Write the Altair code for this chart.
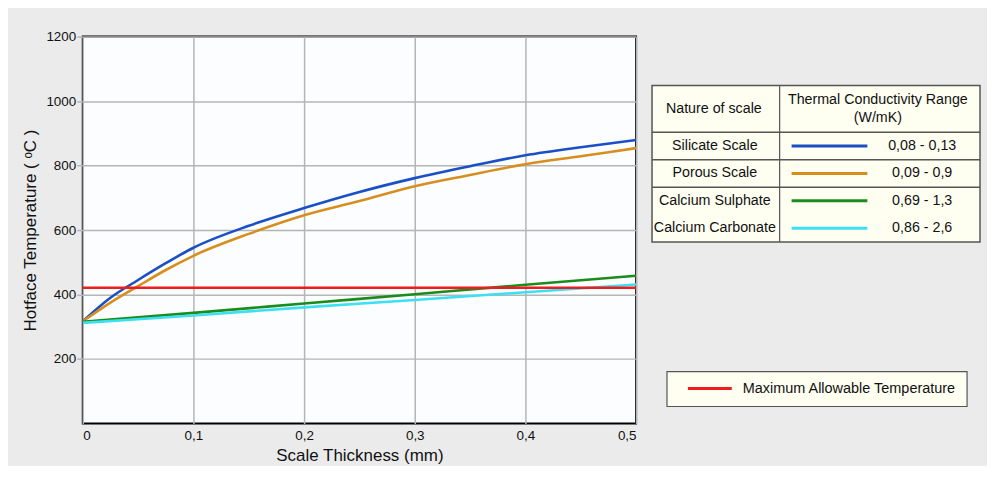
import altair as alt
import pandas as pd

# ---------------- data ----------------
thickness = [0, 0.025, 0.05, 0.075, 0.1, 0.15, 0.2, 0.25, 0.3, 0.35, 0.4, 0.45, 0.5]
silicate = [317, 390, 445, 497, 545, 613, 668, 718, 761, 798, 832, 857, 879]
porous = [317, 375, 426, 476, 520, 588, 646, 690, 736, 771, 804, 829, 854]
lin_thickness = [0, 0.1, 0.2, 0.3, 0.4, 0.5]
sulphate = [315, 343, 372, 401, 430, 458]
carbonate = [312, 335, 360, 383, 407, 431]
max_thickness = [0, 0.5]
max_temp = [421, 421]

series_names = ["Silicate Scale", "Porous Scale", "Calcium Sulphate", "Calcium Carbonate"]
conductivity = ["0,08 - 0,13", "0,09 - 0,9", "0,69 - 1,3", "0,86 - 2,6"]
series_colors = ["#1b4fc6", "#d68f1f", "#1b8c1b", "#3be0f2"]
max_label = "Maximum Allowable Temperature"
max_color = "#ee1c1c"

x_ticks = [0, 0.1, 0.2, 0.3, 0.4, 0.5]
y_ticks = [200, 400, 600, 800, 1000, 1200]

FONT = "Liberation Sans"
LEG_FS = 14.3

rows = []
for name, xs_, ys_ in [
    (series_names[0], thickness, silicate),
    (series_names[1], thickness, porous),
    (series_names[2], lin_thickness, sulphate),
    (series_names[3], lin_thickness, carbonate),
    (max_label, max_thickness, max_temp),
]:
    for i, (a, b) in enumerate(zip(xs_, ys_)):
        rows.append({"series": name, "t": a, "temp": b, "order": i})
df = pd.DataFrame(rows)

color_scale = alt.Scale(domain=[max_label] + series_names, range=[max_color] + series_colors)

W, H = 555, 388

main = (
    alt.Chart(df)
    .mark_line(strokeWidth=2.6, clip=True, interpolate="monotone")
    .encode(
        x=alt.X(
            "t:Q",
            scale=alt.Scale(domain=[0, 0.5], nice=False, zero=False),
            axis=alt.Axis(
                values=x_ticks,
                title="Scale Thickness (mm)",
                labelExpr="datum.value == 0 ? '0' : replace(format(datum.value, '.1f'), '.', ',')",
                ticks=False,
                labelPadding=5,
                titlePadding=6,
            ),
        ),
        y=alt.Y(
            "temp:Q",
            scale=alt.Scale(domain=[0, 1200], nice=False),
            axis=alt.Axis(
                values=y_ticks,
                format="d",
                title="Hotface Temperature ( ᵒC )",
                tickSize=6,
                labelPadding=1,
                titlePadding=6,
            ),
        ),
        color=alt.Color("series:N", scale=color_scale, legend=None),
        order="order:Q",
        detail="series:N",
    )
    .properties(width=W, height=H)
)

# ---------------- legend panel (table) ----------------
LW = 329
tbl_top, hdr_bot, row_h, col_sep = 49, 96, 27.5, 128
tbl_bot = hdr_bot + row_h * len(series_names)

leg_rows = pd.DataFrame({
    "series": series_names,
    "range": conductivity,
    "idx": list(range(len(series_names))),
})

xs = alt.Scale(domain=[0, LW], nice=False, zero=False)
ys = alt.Scale(domain=[0, H], nice=False, zero=False, reverse=True)

def X(f):
    return alt.X(f, scale=xs, axis=None)

def Y(f):
    return alt.Y(f, scale=ys, axis=None)

box = alt.Chart(pd.DataFrame({"a": [0], "b": [LW], "c": [tbl_top], "d": [tbl_bot]})).mark_rect(
    fill="#fefef1", stroke="#555555", strokeWidth=1.5
).encode(x=X("a:Q"), x2="b:Q", y=Y("c:Q"), y2="d:Q")

hsep = alt.Chart(pd.DataFrame({"y": [hdr_bot, hdr_bot + row_h, hdr_bot + 2 * row_h]})).mark_rule(
    color="#555555", strokeWidth=1.5
).encode(x=alt.value(0), x2=alt.value(LW), y=Y("y:Q"))

vsep = alt.Chart(pd.DataFrame({"a": [tbl_top], "b": [tbl_bot]})).mark_rule(
    color="#555555", strokeWidth=1.2
).encode(x=alt.value(col_sep), y=Y("a:Q"), y2="b:Q")

hdr = alt.Chart(pd.DataFrame({
    "txt": ["Nature of scale", "Thermal Conductivity Range", "(W/mK)"],
    "x": [col_sep / 2 - 2, (col_sep + LW) / 2 - 2, (col_sep + LW) / 2 - 2],
    "y": [(tbl_top + hdr_bot) / 2, 64, 82],
})).mark_text(font=FONT, fontSize=LEG_FS, color="#111111").encode(x=X("x:Q"), y=Y("y:Q"), text="txt:N")

base_rows = alt.Chart(leg_rows).transform_calculate(
    yc=f"{hdr_bot} + (datum.idx + 0.5) * {row_h}"
)

names_txt = base_rows.mark_text(font=FONT, fontSize=LEG_FS, color="#111111").encode(
    x=alt.value(col_sep / 2 - 1), y=Y("yc:Q"), text="series:N"
)
swatch = base_rows.mark_rule(strokeWidth=3).encode(
    x=alt.value(140), x2=alt.value(216), y=Y("yc:Q"),
    color=alt.Color("series:N", scale=color_scale, legend=None),
)
range_txt = base_rows.mark_text(font=FONT, fontSize=LEG_FS, color="#111111").encode(
    x=alt.value(271), y=Y("yc:Q"), text="range:N"
)

mbox = alt.Chart(pd.DataFrame({"a": [15], "b": [316], "c": [336], "d": [371]})).mark_rect(
    fill="#fefef1", stroke="#555555", strokeWidth=1.2
).encode(x=X("a:Q"), x2="b:Q", y=Y("c:Q"), y2="d:Q")
mline = alt.Chart(pd.DataFrame({"series": [max_label], "y": [353]})).mark_rule(strokeWidth=3).encode(
    x=alt.value(36), x2=alt.value(80), y=Y("y:Q"),
    color=alt.Color("series:N", scale=color_scale, legend=None),
)
mtxt = alt.Chart(pd.DataFrame({"series": [max_label], "y": [353]})).mark_text(
    font=FONT, fontSize=14.5, align="left", color="#111111"
).encode(x=alt.value(91), y=Y("y:Q"), text="series:N")

legend_panel = alt.layer(
    box, hsep, vsep, hdr, names_txt, swatch, range_txt, mbox, mline, mtxt
).properties(width=LW, height=H, view=alt.ViewConfig(stroke="transparent", fill="transparent"))

chart = (
    alt.hconcat(main, legend_panel, spacing=13)
    .resolve_scale(color="shared")
    .properties(
        background="#ebebeb",
        padding={"left": 12, "top": 20, "right": 5, "bottom": 0},
    )
    .configure_view(stroke="#000000", strokeWidth=2, fill="#fbfdff")
    .configure_axis(
        labelFont=FONT,
        titleFont=FONT,
        labelFontSize=13.5,
        titleFontSize=17,
        titleFontWeight="normal",
        labelColor="#111111",
        titleColor="#111111",
        gridColor="#b5b5b5",
        gridWidth=1.5,
        tickColor="#b5b5b5",
        tickWidth=1.5,
        domain=False,
    )
)

chart.save("out.html", embed_options={"renderer": "svg", "actions": False})
